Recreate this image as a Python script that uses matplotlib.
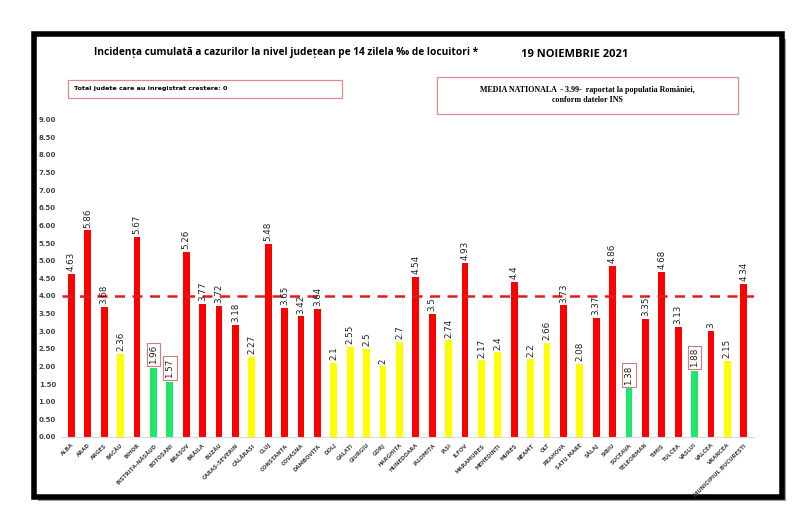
import matplotlib
matplotlib.use('Agg')
import matplotlib.pyplot as plt
from matplotlib.patches import Rectangle
import numpy as np

counties = ["ALBA", "ARAD", "ARGEȘ", "BACĂU", "BIHOR", "BISTRIȚA-NĂSĂUD", "BOTOȘANI",
            "BRAȘOV", "BRĂILA", "BUZĂU", "CARAȘ-SEVERIN", "CĂLĂRAȘI", "CLUJ", "CONSTANȚA",
            "COVASNA", "DÂMBOVIȚA", "DOLJ", "GALAȚI", "GIURGIU", "GORJ", "HARGHITA",
            "HUNEDOARA", "IALOMIȚA", "IAȘI", "ILFOV", "MARAMUREȘ", "MEHEDINȚI", "MUREȘ",
            "NEAMȚ", "OLT", "PRAHOVA", "SATU MARE", "SĂLAJ", "SIBIU", "SUCEAVA",
            "TELEORMAN", "TIMIȘ", "TULCEA", "VASLUI", "VÂLCEA", "VRANCEA",
            "MUNICIPIUL BUCUREȘTI"]
values = [4.63, 5.86, 3.68, 2.36, 5.67, 1.96, 1.57, 5.26, 3.77, 3.72, 3.18, 2.27, 5.48,
          3.65, 3.42, 3.64, 2.1, 2.55, 2.5, 2, 2.7, 4.54, 3.5, 2.74, 4.93, 2.17, 2.4, 4.4,
          2.2, 2.66, 3.73, 2.08, 3.37, 4.86, 1.38, 3.35, 4.68, 3.13, 1.88, 3, 2.15, 4.34]
media_nationala = 3.99

def bar_color(v):
    if v < 2:
        return '#1ee86b'
    elif v < 3:
        return '#ffff00'
    return '#ff0000'

colors = [bar_color(v) for v in values]

fig = plt.figure(figsize=(8, 5.14), dpi=100)
fig.patch.set_facecolor('white')

# outer frame with shadow
fig.patches.append(Rectangle((0.048, 0.025), 0.935, 0.9, transform=fig.transFigure,
                             facecolor='#9a9a9a', edgecolor='none', zorder=0))
fig.patches.append(Rectangle((0.043, 0.033), 0.935, 0.9, transform=fig.transFigure,
                             facecolor='white', edgecolor='black', linewidth=4, zorder=1))

ax = fig.add_axes([0.077, 0.15, 0.865, 0.617])
ax.set_zorder(5)
ax.set_facecolor('none')
x = np.arange(len(counties))
ax.bar(x, values, color=colors, width=0.42, zorder=2)
ax.axhline(media_nationala, color='#e31b1b', linestyle=(0, (4, 3)), linewidth=1.8, zorder=3)

for xi, v in zip(x, values):
    label = f"{v:g}"
    if v < 2:
        ax.text(xi, v + 0.1, label, rotation=90, ha='center', va='bottom', fontsize=6.3,
                color='#222222',
                bbox=dict(boxstyle='square,pad=0.25', facecolor='white',
                          edgecolor='#d77b7b', linewidth=0.8), zorder=4)
    else:
        ax.text(xi, v + 0.08, label, rotation=90, ha='center', va='bottom', fontsize=6.3,
                color='#222222', zorder=4)

ax.set_ylim(0, 9)
ax.set_xlim(-0.6, len(counties) - 0.4)
ax.set_yticks(np.arange(0, 9.01, 0.5))
ax.set_yticklabels([f"{t:.2f}" for t in np.arange(0, 9.01, 0.5)], fontsize=5,
                   fontweight='bold', color='#444444')
ax.set_xticks(x)
ax.set_xticklabels(counties, rotation=45, ha='right', rotation_mode='anchor',
                   fontsize=3.9, fontweight='bold', color='#444444')
ax.tick_params(axis='both', length=0, pad=4)
for s in ['top', 'right', 'left']:
    ax.spines[s].set_visible(False)
ax.spines['bottom'].set_color('#d9d9d9')

fig.text(0.118, 0.897, "Incidența cumulată a cazurilor la nivel județean pe 14 zilela ‰ de locuitori *",
         fontsize=7.3, fontweight='bold', ha='left', va='center', family='Open Sans', zorder=3)
fig.text(0.651, 0.893, "19 NOIEMBRIE 2021", fontsize=8, fontweight='bold', ha='left',
         va='center', family='Open Sans', zorder=3)

fig.patches.append(Rectangle((0.085, 0.81), 0.343, 0.034, transform=fig.transFigure,
                             facecolor='white', edgecolor='#e08a8a', linewidth=0.9, zorder=2))
fig.text(0.092, 0.827, "Total judete care au inregistrat crestere: 0", fontsize=4.6,
         fontweight='bold', ha='left', va='center', zorder=3)

fig.patches.append(Rectangle((0.546, 0.778), 0.376, 0.073, transform=fig.transFigure,
                             facecolor='white', edgecolor='#e08a8a', linewidth=0.9, zorder=2))
fig.text(0.734, 0.815, "MEDIA NATIONALA  - 3.99-  raportat la populatia României,\nconform datelor INS",
         fontsize=5.8, fontweight='bold', ha='center', va='center', family='Liberation Serif',
         linespacing=1.3, zorder=3)

fig.savefig('out.png', dpi=100)
